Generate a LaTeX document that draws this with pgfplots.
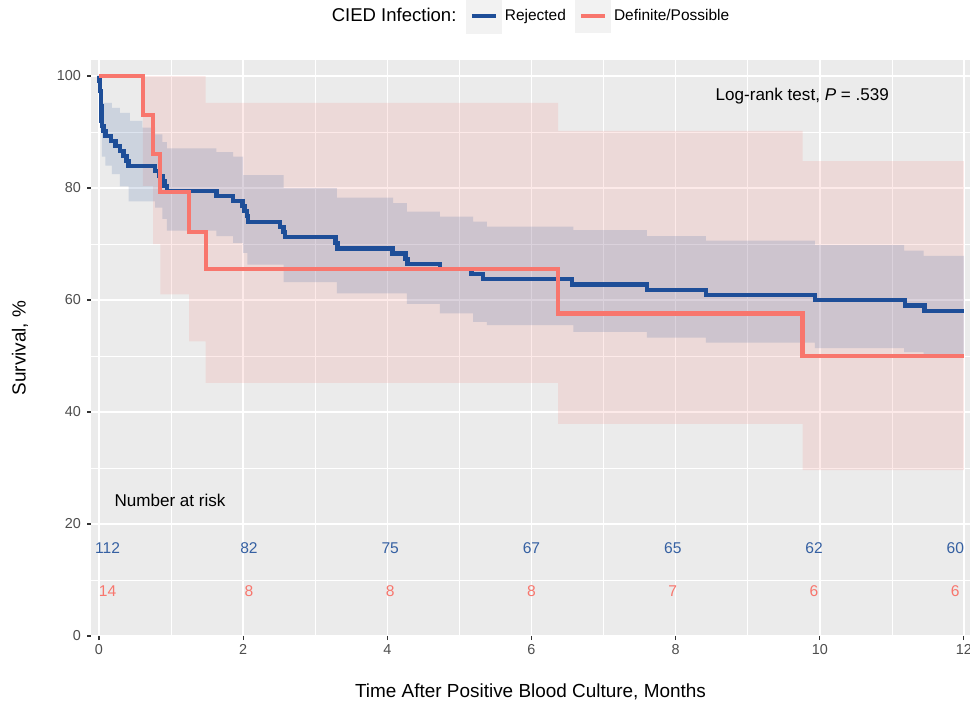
\documentclass[border=0pt]{standalone}
\usepackage{fontspec}
\setmainfont{Liberation Sans}
\usepackage{pgfplots}
\usepackage{pgfplotstable}
\pgfplotsset{compat=1.18}
\usepgfplotslibrary{fillbetween}
\definecolor{panel}{HTML}{EBEBEB}
\definecolor{keyBg}{HTML}{F2F2F2}
\definecolor{rejBlue}{HTML}{1E4E98}
\definecolor{defRed}{HTML}{F8766D}
\definecolor{tickGray}{HTML}{4D4D4D}
\definecolor{tickMark}{HTML}{333333}

% Kaplan-Meier steps, months vs survival %
\pgfplotstableread{
x y
0 100
0.005 99.1
0.01 98.2
0.015 97.3
0.025 96.4
0.03 94.6
0.035 92.0
0.04 91.1
0.06 90.2
0.09 89.3
0.17 88.4
0.23 87.5
0.29 86.6
0.34 85.7
0.38 84.8
0.41 83.9
0.78 83.0
0.83 82.1
0.88 81.2
0.91 80.4
0.94 79.5
1.63 78.6
1.86 77.7
1.99 76.8
2.02 75.9
2.05 75.0
2.07 73.9
2.51 73.0
2.56 72.1
2.58 71.2
3.28 70.2
3.31 69.2
4.07 68.3
4.25 67.3
4.28 66.4
4.73 65.5
5.17 64.6
5.33 63.7
6.56 62.8
7.60 61.8
8.42 60.9
9.93 60.0
11.18 59.0
11.45 58.0
12 58.0
}\rejLine
\pgfplotstableread{
x y
0 100
0.03 97.5
0.04 95.2
0.18 94.3
0.29 93.4
0.43 92.0
0.60 90.8
0.78 89.6
0.88 88.2
0.94 87.1
1.63 86.4
1.86 85.6
2.00 82.3
2.56 80.0
3.30 78.3
4.08 77.3
4.27 75.8
4.73 74.9
5.19 74.0
5.38 73.1
6.58 72.5
7.60 71.4
8.42 70.6
9.93 69.8
11.17 68.8
11.44 67.9
12 67.9
}\rejUp
\pgfplotstableread{
x y
0 100
0.01 96.4
0.025 93.0
0.04 85.6
0.09 84.0
0.18 82.5
0.29 80.3
0.41 77.6
0.78 76.5
0.88 74.5
0.94 72.4
1.63 71.4
1.86 70.2
2.00 68.4
2.06 66.3
2.56 63.2
3.30 61.2
4.27 59.3
4.73 57.6
5.19 56.1
5.38 55.5
6.58 54.3
7.60 53.3
8.42 52.4
9.93 51.4
11.17 50.7
11.44 49.7
12 49.7
}\rejLo
\pgfplotstableread{
x y
0 100
0.61 93.0
0.75 86.0
0.85 79.3
1.25 72.2
1.48 65.5
6.37 57.6
9.76 50.0
12 50.0
}\defLine
\pgfplotstableread{
x y
0 100
1.48 95.2
6.37 90.2
9.76 84.8
12 84.8
}\defUp
\pgfplotstableread{
x y
0 100
0.61 80.4
0.75 70.0
0.85 61.0
1.25 52.6
1.48 45.2
6.37 37.9
9.76 29.6
12 29.6
}\defLo
% number at risk
\pgfplotstableread{
x y n
0.12 15.7 112
2.08 15.7 82
4.04 15.7 75
6.00 15.7 67
7.96 15.7 65
9.92 15.7 62
11.88 15.7 60
}\riskRej
\pgfplotstableread{
x y n
0.12 8.0 14
2.08 8.0 8
4.04 8.0 8
6.00 8.0 8
7.96 8.0 7
9.92 8.0 6
11.88 8.0 6
}\riskDef

\begin{document}
\begin{tikzpicture}
\begin{axis}[
    at={(68.25pt,51pt)}, anchor=south west,
    scale only axis, width=659.25pt, height=432pt,
    xmin=-0.111, xmax=12.084, ymin=0, ymax=102.86,
    axis background/.style={fill=panel},
    axis line style={draw=none},
    xtick={0,2,...,12}, ytick={0,20,...,100},
    minor x tick num=1, minor y tick num=1,
    grid=both,
    major grid style={white, line width=1.1pt},
    minor grid style={white, line width=0.5pt},
    tick align=outside, xtick pos=left, ytick pos=left,
    major tick length=3pt, minor tick length=0pt,
    tick style={tickMark, line width=0.8pt},
    ticklabel style={font=\fontsize{10.8}{13}\selectfont, text=tickGray},
    yticklabel style={xshift=-1pt},
    /pgf/number format/assume math mode=true,
    xlabel={Time After Positive Blood Culture, Months},
    ylabel={Survival, \%},
    every axis x label/.style={at={(axis description cs:0.5,-0.0972)}, anchor=center,
      font=\fontsize{14.2}{17}\selectfont},
    every axis y label/.style={at={(axis description cs:-0.0808,0.5)}, rotate=90, anchor=center,
      font=\fontsize{14.2}{17}\selectfont},
    legend columns=-1,
    legend style={at={(axis description cs:0.5,1.0764)}, anchor=center, draw=none, fill=none,
      font=\fontsize{11.6}{13}\selectfont,
      /tikz/every even column/.append style={column sep=5pt}},
    legend image code/.code={\fill[keyBg] (0pt,-11.5pt) rectangle (24pt,11.5pt);
      \draw[#1] (3pt,0pt) -- (21pt,0pt);},
  ]
  \addlegendimage{empty legend}
  \addlegendentry{\fontsize{13.9}{16}\selectfont CIED Infection:}
  \addplot[const plot, rejBlue, line width=3.3pt] table {\rejLine};
  \addlegendentry{Rejected}
  \addplot[const plot, defRed, line width=3.1pt] table {\defLine};
  \addlegendentry{Definite/Possible}

  \addplot[const plot, draw=none, name path=dU, forget plot] table {\defUp};
  \addplot[const plot, draw=none, name path=dL, forget plot] table {\defLo};
  \addplot[fill=defRed, fill opacity=0.15, draw=none, forget plot] fill between[of=dU and dL];
  \addplot[const plot, draw=none, name path=rU, forget plot] table {\rejUp};
  \addplot[const plot, draw=none, name path=rL, forget plot] table {\rejLo};
  \addplot[fill=rejBlue, fill opacity=0.15, draw=none, forget plot] fill between[of=rU and rL];

  \addplot[only marks, mark=none, forget plot, nodes near coords, point meta=explicit symbolic,
    every node near coord/.style={anchor=center, text=rejBlue!90, font=\fontsize{11.7}{13}\selectfont}]
    table[meta=n] {\riskRej};
  \addplot[only marks, mark=none, forget plot, nodes near coords, point meta=explicit symbolic,
    every node near coord/.style={anchor=center, text=defRed, font=\fontsize{11.7}{13}\selectfont}]
    table[meta=n] {\riskDef};

  \node[anchor=west, font=\fontsize{12.8}{15}\selectfont] at (axis cs:0.15,24.3) {Number at risk};
  \node[anchor=west, font=\fontsize{12.8}{15}\selectfont] at (axis cs:8.49,96.4) {Log-rank test, \textit{P} = .539};
\end{axis}
\pgfresetboundingbox
\useasboundingbox (0,0) rectangle (727.5pt,528pt);
\end{tikzpicture}
\end{document}
